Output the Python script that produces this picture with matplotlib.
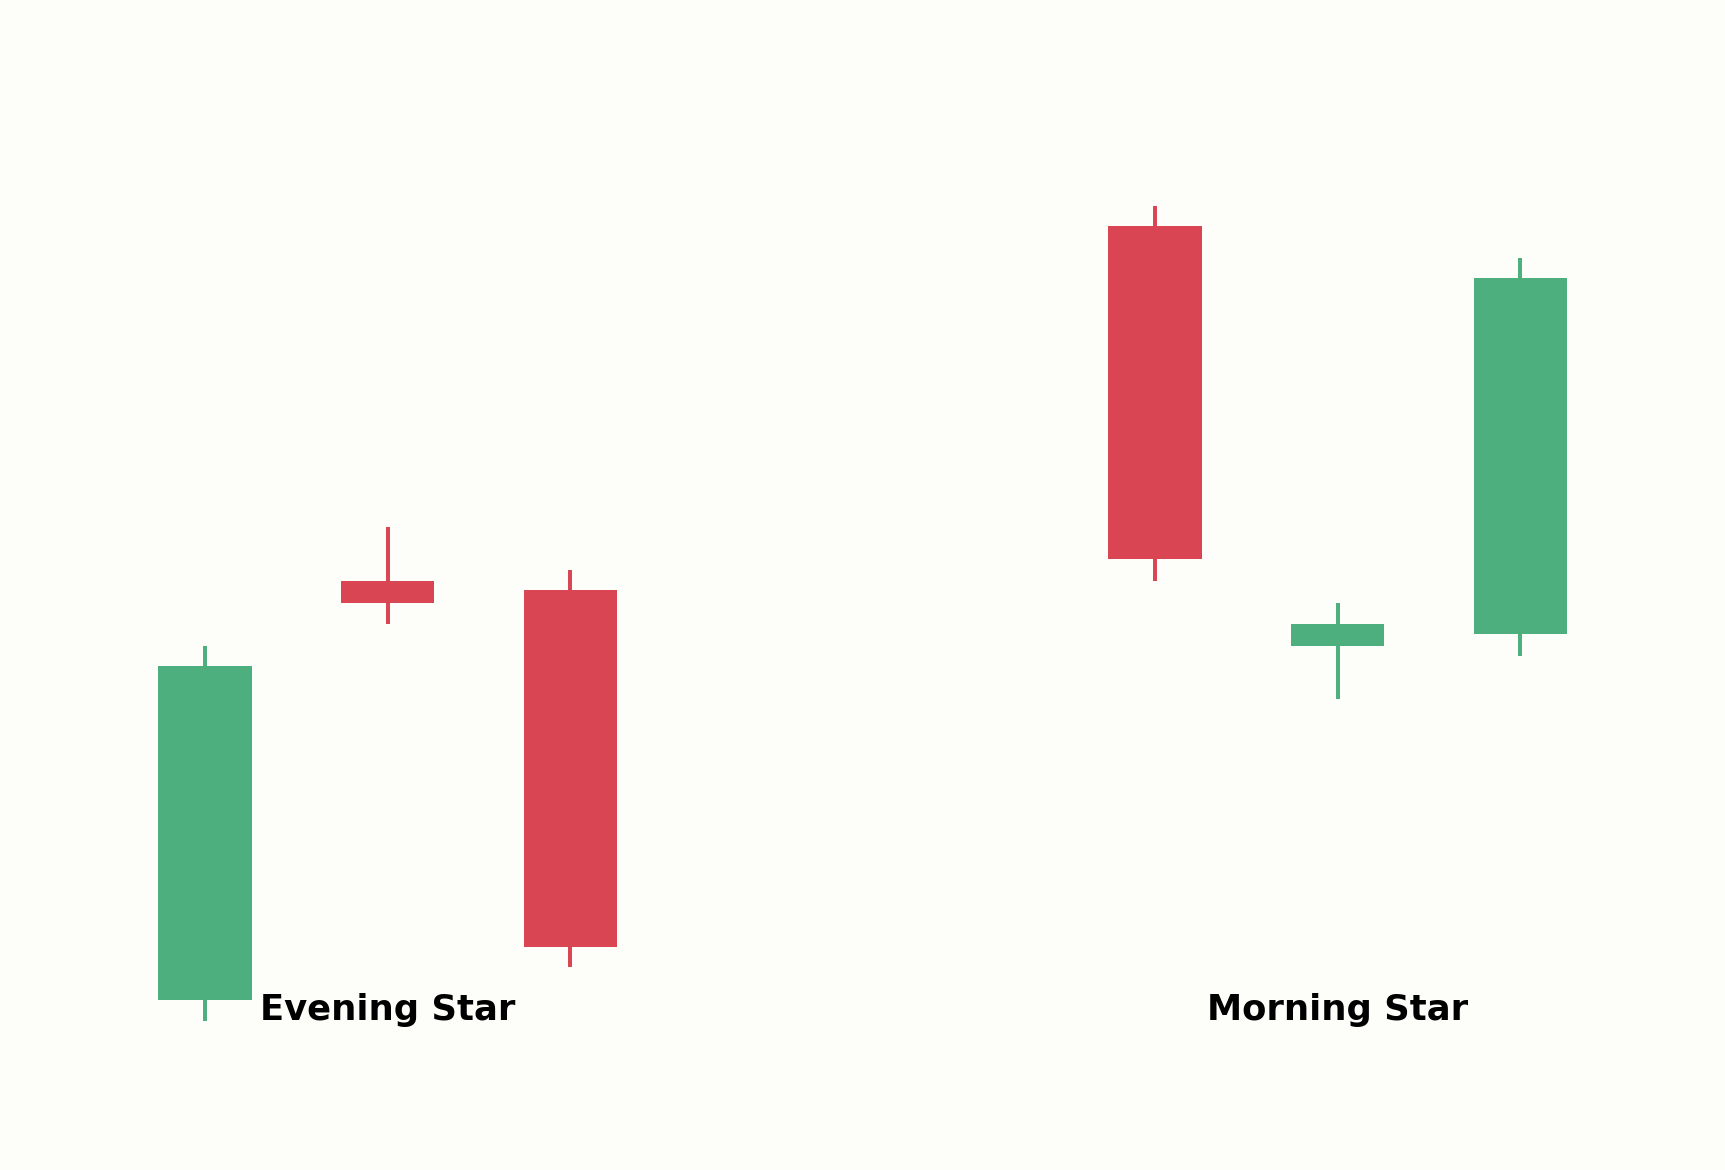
#!/usr/bin/env python3
"""
plot.py – Evening Star / Morning Star candlestick illustration.
Output: out.png (1725x1170)
"""

import matplotlib
matplotlib.use("Agg")
import matplotlib.pyplot as plt

# ─── Data ─────────────────────────────────────────────────────────────────────
X_POS  = [0, 1, 2, 5.2, 6.2, 7.2]
OPENS  = [98.6, 119.3, 118.85, 136.9, 116.1, 116.7]
HIGHS  = [116.1, 122.0, 119.85, 137.9, 118.25, 135.3]
LOWS   = [97.55, 117.2, 100.2, 119.3, 113.5, 115.6]
CLOSES = [115.1, 118.25, 101.2, 120.4, 117.2, 134.3]

PATTERN_NAMES = ["Evening Star", "Morning Star"]
PATTERN_X     = [1, 6.2]
LABEL_Y       = 97.58

# ─── Style ────────────────────────────────────────────────────────────────────
BG     = "#FDFDFA"
UP     = "#4DAF7D"
DOWN   = "#D94552"
BODY_W = 0.51


def main():
    fig = plt.figure(figsize=(11.5, 7.8), dpi=150, facecolor=BG)
    ax = fig.add_axes([0, 0, 1, 1])
    ax.set_facecolor(BG)

    for x, o, h, l, c in zip(X_POS, OPENS, HIGHS, LOWS, CLOSES):
        color = UP if c >= o else DOWN
        ax.vlines(x, l, h, color=color, linewidth=1.9, zorder=2)
        ax.bar(x, abs(c - o), bottom=min(o, c), width=BODY_W,
               color=color, linewidth=0, zorder=3)

    for name, x in zip(PATTERN_NAMES, PATTERN_X):
        ax.text(x, LABEL_Y, name, ha="center", va="baseline",
                fontsize=17, fontweight="bold", color="black",
                family="DejaVu Sans", zorder=4)

    ax.set_xlim(-1.122, 8.320)
    ax.set_ylim(90.16, 148.08)
    ax.axis("off")

    fig.savefig("out.png", dpi=150, facecolor=BG)
    plt.close(fig)


if __name__ == "__main__":
    main()
